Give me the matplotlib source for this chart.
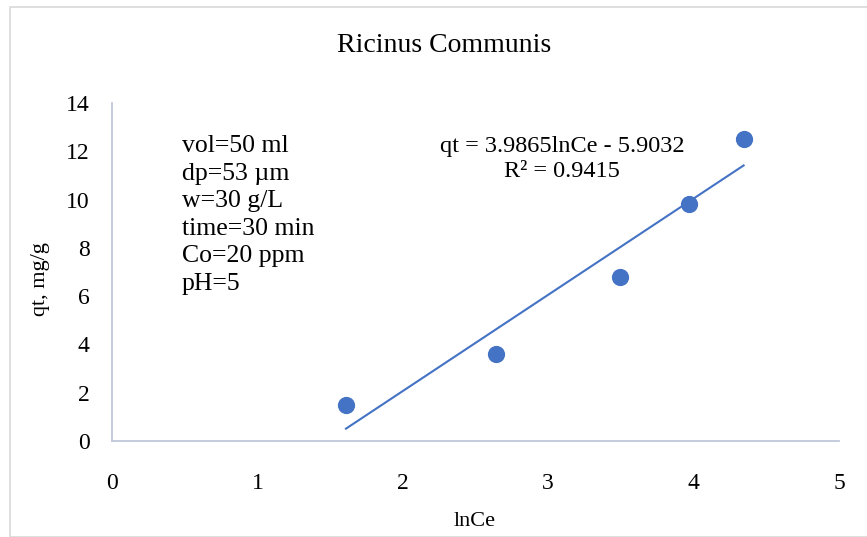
import matplotlib
matplotlib.use("Agg")
import numpy as np
import matplotlib.pyplot as plt
from matplotlib.patches import Rectangle

# data
ln_ce = [1.609, 2.64, 3.497, 3.97, 4.344]
qt = [1.5, 3.6, 6.8, 9.8, 12.5]
slope = 3.9865
intercept = -5.9032
r2 = 0.9415
x_ticks = [0, 1, 2, 3, 4, 5]
y_ticks = [0, 2, 4, 6, 8, 10, 12, 14]
conditions = ["vol=50 ml", "dp=53 µm", "w=30 g/L", "time=30 min", "Co=20 ppm", "pH=5"]

plt.rcParams["font.family"] = ["Liberation Serif", "DejaVu Serif"]
blue = "#4472C4"
axis_col = "#BFC8DA"

fig = plt.figure(figsize=(8.67, 5.37), dpi=100)
fig.patches.append(Rectangle((10 / 867, 0), 1, 1 - 7 / 537, transform=fig.transFigure,
                             fill=False, edgecolor="#D9D9D9", linewidth=1.2))
ax = fig.add_axes([112 / 867, 1 - 441 / 537, (839 - 112) / 867, (441 - 103) / 537])

ax.scatter(ln_ce, qt, s=130, color=blue, zorder=3)
xs = np.array([min(ln_ce), max(ln_ce)])
ax.plot(xs, slope * xs + intercept, color=blue, linewidth=1.5)

ax.set_xlim(0, 5)
ax.set_ylim(0, 14)
ax.set_xticks(x_ticks)
ax.set_yticks(y_ticks)
ax.tick_params(length=0, labelsize=17, colors="#000000")
ax.tick_params(axis="x", pad=23)
ax.tick_params(axis="y", pad=16)
for s in ["top", "right"]:
    ax.spines[s].set_visible(False)
for s in ["left", "bottom"]:
    ax.spines[s].set_color(axis_col)
    ax.spines[s].set_linewidth(1.3)

fig.text(444 / 867, 1 - 46 / 537, "Ricinus Communis", ha="center", va="center", fontsize=20)
fig.text(475 / 867, 1 - 522 / 537, "lnCe", ha="center", va="center", fontsize=16)
fig.text(40 / 867, 1 - 279 / 537, "qt, mg/g", ha="center", va="center", rotation=90, fontsize=16)

fig.text(182 / 867, 1 - 215 / 537, "\n".join(conditions),
         ha="left", va="center", fontsize=18.5, linespacing=1.33)
fig.text(562 / 867, 1 - 159 / 537,
         f"qt = {slope}lnCe - {abs(intercept)}\nR² = {r2}",
         ha="center", va="center", fontsize=17.5, linespacing=1.25)

fig.savefig("out.png", dpi=100)
